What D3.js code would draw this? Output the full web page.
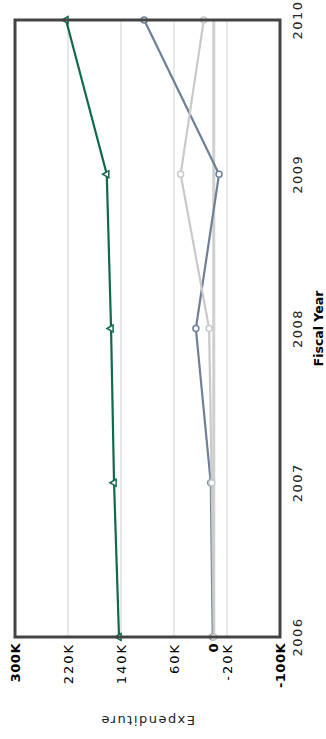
<!DOCTYPE html>
<html><head><meta charset="utf-8">
<script src="https://cdn.jsdelivr.net/npm/d3@7"></script>
<style>html,body{margin:0;padding:0;background:#fff;overflow:hidden}</style>
</head><body>
<script>
const years = ["2006","2007","2008","2009","2010"];
const greenValues = [143000, 150500, 155000, 161500, 223000];
const blueValues  = [1500, 4500, 27000, -8000, 105000];
const greyValues  = [0, 3000, 7000, 50000, 15000];
const tickValues = [300000, 220000, 140000, 60000, 0, -20000, -100000];
const tickLabels = ["300K","220K","140K","60K","0","-20K","-100K"];
const boldTicks = ["300K","0","-100K"];

const svg = d3.select("body").append("svg").attr("width",326).attr("height",739);
const g = svg.append("g").attr("transform","translate(0,739) rotate(-90)");

const pL=102, pR=719, pT=15, pB=280;
const x = d3.scalePoint().domain(years).range([pL,pR]);
const y = d3.scaleLinear().domain([-100000,300000]).range([pB,pT]);

// gridlines
g.append("g").selectAll("line").data(tickValues.filter(v=>v!==300000 && v!==-100000 && v!==0))
 .join("line").attr("x1",pL).attr("x2",pR).attr("y1",d=>y(d)).attr("y2",d=>y(d))
 .attr("stroke","#d0d0d0").attr("stroke-width",1);
g.append("line").attr("x1",pL).attr("x2",pR).attr("y1",y(0)).attr("y2",y(0))
 .attr("stroke","#cfcfcf").attr("stroke-width",3);

const series = [
  {vals:blueValues, color:"#6e8098", sym:d3.symbolCircle, size:28},
  {vals:greyValues, color:"#c9c9c9", sym:d3.symbolCircle, size:28},
  {vals:greenValues, color:"#0f6a47", sym:d3.symbolTriangle, size:22}
];
const line = d3.line().x((d,i)=>x(years[i])).y(d=>y(d));
series.forEach(s=>{
  g.append("path").datum(s.vals).attr("d",line).attr("fill","none")
   .attr("stroke",s.color).attr("stroke-width",2.2);
});
series.forEach(s=>{
  g.append("g").selectAll("path").data(s.vals).join("path")
   .attr("d",d3.symbol().type(s.sym).size(s.size))
   .attr("transform",(d,i)=>`translate(${x(years[i])},${y(d)})`)
   .attr("fill","#fff").attr("stroke",s.color).attr("stroke-width",1.5);
});

// frame
g.append("rect").attr("x",pL).attr("y",pT).attr("width",pR-pL).attr("height",pB-pT)
 .attr("fill","none").attr("stroke","#444").attr("stroke-width",3);

// y tick labels
g.append("g").selectAll("text").data(tickValues).join("text")
 .attr("x",96).attr("y",d=>y(d)).attr("dy","0.35em").attr("text-anchor","end")
 .attr("font-family","DejaVu Sans").attr("font-size",13)
 .attr("font-weight",(d,i)=>boldTicks.includes(tickLabels[i])?"bold":"normal")
 .attr("letter-spacing",(d,i)=>boldTicks.includes(tickLabels[i])?"0.5px":"2px")
 .text((d,i)=>tickLabels[i]);

// x tick labels
g.append("g").selectAll("text").data(years).join("text")
 .attr("x",d=>x(d)).attr("y",302).attr("text-anchor","middle")
 .attr("font-family","DejaVu Sans").attr("font-size",13).attr("letter-spacing","1.5px")
 .attr("fill","#222").text(d=>d);

g.append("text").attr("x",(pL+pR)/2).attr("y",323).attr("text-anchor","middle")
 .attr("font-family","DejaVu Sans").attr("font-size",12.5).attr("font-weight","bold")
 .text("Fiscal Year");

g.append("text").attr("transform",`translate(23,${(pT+pB)/2}) rotate(-90)`)
 .attr("text-anchor","middle").attr("font-family","DejaVu Sans").attr("font-size",13)
 .attr("letter-spacing","1.5px").attr("fill","#222").text("Expenditure");
</script>
</body></html>
